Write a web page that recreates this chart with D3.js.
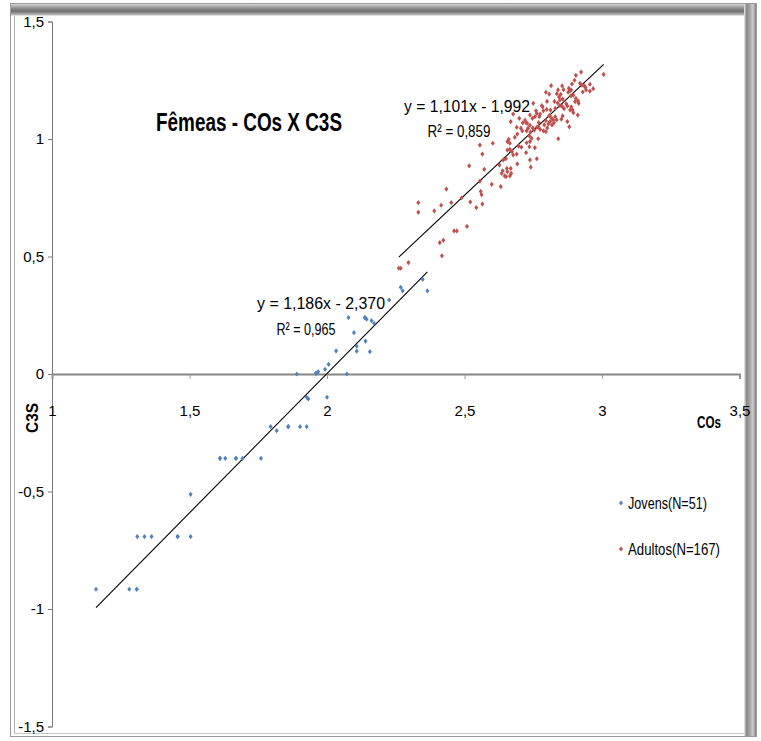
<!DOCTYPE html>
<html>
<head>
<meta charset="utf-8">
<script src="https://cdn.jsdelivr.net/npm/d3@7"></script>
<style>
  html, body { margin: 0; padding: 0; background: #fff; }
  svg { display: block; }
  text { font-family: "Liberation Sans Narrow", "Arial Narrow", "Liberation Sans", Arial, sans-serif; fill: #000; }
</style>
</head>
<body>
<script>
// ---- data -------------------------------------------------------------
const seriesNames = ["Jovens(N=51)", "Adultos(N=167)"];
const seriesColors = ["#4f81bd", "#c0504d"];

const xTicks = [1, 1.5, 2, 2.5, 3, 3.5];
const yTicks = [-1.5, -1, -0.5, 0, 0.5, 1, 1.5];

const jovensCOs = [1.16, 1.281, 1.308, 1.308, 1.31, 1.336, 1.362, 1.457, 1.457, 1.504,
  1.504, 1.611, 1.611, 1.630, 1.669, 1.669, 1.693, 1.76, 1.795, 1.817,
  1.859, 1.859, 1.902, 1.926, 1.926, 1.932, 2.0, 1.89, 1.96, 1.96,
  1.968, 1.993, 2.006, 2.072, 2.033, 2.108, 2.108, 2.156, 2.14, 2.098,
  2.078, 2.138, 2.138, 2.144, 2.162, 2.171, 2.226, 2.268, 2.275, 2.348, 2.365];
const jovensC3S = [-0.916, -0.916, -0.916, -0.916, -0.692, -0.692, -0.692, -0.692, -0.692, -0.692,
  -0.512, -0.359, -0.359, -0.359, -0.359, -0.359, -0.359, -0.359, -0.224, -0.241,
  -0.224, -0.224, -0.224, -0.224, -0.099, -0.106, -0.099, 0, 0.003, 0.003,
  0.01, 0.02, 0.041, 0, 0.098, 0.118, 0.097, 0.095, 0.14, 0.176,
  0.24, 0.24, 0.24, 0.233, 0.227, 0.216, 0.315, 0.369, 0.354, 0.403, 0.354];

const adultosCOs = [2.924, 2.905, 3.006, 2.815, 2.855, 2.840, 2.836, 2.844, 2.847, 2.857,
  2.879, 2.884, 2.888, 2.877, 2.887, 2.891, 2.920, 2.927, 2.936, 2.956,
  2.942, 2.956, 2.968, 2.796, 2.808, 2.896, 2.905, 2.913, 2.915, 2.902,
  2.750, 2.827, 2.839, 2.781, 2.784, 2.799, 2.813, 2.787, 2.847, 2.855,
  2.862, 2.874, 2.884, 2.893, 2.896, 2.888, 2.912, 2.677, 2.668, 2.699,
  2.738, 2.747, 2.756, 2.763, 2.775, 2.772, 2.808, 2.817, 2.823, 2.811,
  2.825, 2.818, 2.805, 2.796, 2.830, 2.835, 2.857, 2.852, 2.874, 2.881,
  2.712, 2.724, 2.728, 2.705, 2.710, 2.726, 2.731, 2.738, 2.748, 2.754,
  2.763, 2.775, 2.768, 2.787, 2.796, 2.801, 2.692, 2.683, 2.661, 2.656,
  2.665, 2.736, 2.744, 2.768, 2.841, 2.603, 2.726, 2.738, 2.736, 2.697,
  2.707, 2.756, 2.656, 2.665, 2.673, 2.724, 2.690, 2.677, 2.641, 2.651,
  2.763, 2.738, 2.627, 2.692, 2.741, 2.654, 2.668, 2.656, 2.639, 2.635,
  2.646, 2.651, 2.665, 2.670, 2.599, 2.632, 2.565, 2.517, 2.572, 2.556,
  2.434, 2.559, 2.562, 2.490, 2.332, 2.332, 2.452, 2.521, 2.565, 2.415,
  2.543, 2.390, 2.462, 2.472, 2.509, 2.423, 2.410, 2.418, 2.296, 2.261,
  2.268, 2.556,
  2.850, 2.870, 2.810, 2.770, 2.930, 2.900, 2.830, 2.760, 2.720, 2.690,
  2.800, 2.860, 2.940, 2.790, 2.740];
const adultosC3S = [1.285, 1.271, 1.275, 1.227, 1.226, 1.209, 1.193, 1.179, 1.166, 1.170,
  1.216, 1.206, 1.209, 1.199, 1.183, 1.234, 1.237, 1.229, 1.226, 1.233,
  1.209, 1.204, 1.214, 1.199, 1.191, 1.187, 1.173, 1.162, 1.152, 1.159,
  1.152, 1.160, 1.153, 1.142, 1.137, 1.126, 1.123, 1.120, 1.142, 1.139,
  1.129, 1.140, 1.123, 1.123, 1.112, 1.137, 1.102, 1.106, 1.074, 1.088,
  1.102, 1.088, 1.095, 1.109, 1.106, 1.095, 1.098, 1.088, 1.081, 1.074,
  1.069, 1.060, 1.064, 1.078, 1.095, 1.081, 1.098, 1.084, 1.074, 1.052,
  1.069, 1.069, 1.067, 1.046, 1.034, 1.035, 1.046, 1.058, 1.047, 1.038,
  1.050, 1.041, 1.052, 1.035, 1.031, 1.047, 1.021, 1.007, 0.999, 0.989,
  0.982, 1.013, 1.003, 1.001, 1.001, 0.982, 0.984, 0.989, 0.967, 0.970,
  0.965, 0.963, 0.953, 0.956, 0.946, 0.942, 0.936, 0.932, 0.911, 0.916,
  0.916, 0.911, 0.889, 0.894, 0.880, 0.875, 0.875, 0.861, 0.865, 0.854,
  0.843, 0.840, 0.843, 0.854, 0.807, 0.797, 0.936, 0.886, 0.871, 0.821,
  0.787, 0.777, 0.763, 0.750, 0.729, 0.688, 0.729, 0.732, 0.723, 0.718,
  0.708, 0.694, 0.609, 0.609, 0.628, 0.569, 0.559, 0.503, 0.474, 0.450,
  0.450, 0.974,
  1.190, 1.150, 1.100, 1.070, 1.200, 1.250, 1.130, 1.120, 1.080, 1.050,
  1.160, 1.210, 1.220, 1.060, 1.030];

// linear trend lines: [slope, intercept] and R²
const trendCoefs = [[1.186, -2.370], [1.101, -1.992]];
const trendR2 = [0.965, 0.859];

// ---- chart ------------------------------------------------------------
const W = 761, H = 741;
const svg = d3.select("body").append("svg").attr("width", W).attr("height", H);
const defs = svg.append("defs");

const comma = v => String(v).replace(".", ",");
const fix3 = v => Math.abs(v).toFixed(3).replace(".", ",");
const narrowFont = '"Liberation Sans Narrow","Liberation Sans",Arial,sans-serif';

// outer frame with bevelled edges
const gTop = defs.append("linearGradient").attr("id", "gTop").attr("x1", 0).attr("y1", 0).attr("x2", 0).attr("y2", 1);
[[0, "#d6d6d6"], [0.35, "#8e8e8e"], [0.6, "#707070"], [0.85, "#a8a8a8"], [1, "#f4f4f4"]]
  .forEach(([o, c]) => gTop.append("stop").attr("offset", o).attr("stop-color", c));
const gRight = defs.append("linearGradient").attr("id", "gRight").attr("x1", 0).attr("y1", 0).attr("x2", 1).attr("y2", 0);
[[0, "#f0f0f0"], [0.2, "#8a8a8a"], [0.45, "#a0a0a0"], [0.75, "#cfcfcf"], [1, "#7d7d7d"]]
  .forEach(([o, c]) => gRight.append("stop").attr("offset", o).attr("stop-color", c));

const frame = svg.append("g");
frame.append("rect").attr("x", 10.5).attr("y", 3.5).attr("width", 746).attr("height", 733)
  .attr("fill", "#fff").attr("stroke", "#9c9c9c");
frame.append("line").attr("x1", 14.5).attr("x2", 14.5).attr("y1", 14).attr("y2", 734)
  .attr("stroke", "#b4b4b4");
frame.append("line").attr("x1", 14).attr("x2", 745).attr("y1", 733.5).attr("y2", 733.5)
  .attr("stroke", "#c4c4c4");
frame.append("rect").attr("x", 11).attr("y", 4).attr("width", 745).attr("height", 12).attr("fill", "url(#gTop)");
frame.append("rect").attr("x", 744).attr("y", 4).attr("width", 12).attr("height", 732).attr("fill", "url(#gRight)");

// scales
const x = d3.scaleLinear().domain([1, 3.5]).range([52, 739.5]);
const y = d3.scaleLinear().domain([-1.5, 1.5]).range([726.5, 21.5]);

// y axis
const yAxis = svg.append("g").attr("transform", `translate(${x(1)},0)`)
  .call(d3.axisLeft(y).tickValues(yTicks).tickSize(4).tickPadding(4).tickFormat(comma));
yAxis.select(".domain").attr("stroke", "#7a7a7a");
yAxis.selectAll(".tick line").attr("stroke", "#7a7a7a");
yAxis.selectAll("text").attr("font-size", 15).attr("fill", "#000").style("font-family", narrowFont);

// x axis drawn through C3S = 0, labels set well below it
const xAxis = svg.append("g").attr("transform", `translate(0,${y(0)})`)
  .call(d3.axisBottom(x).tickValues(xTicks).tickSize(5).tickPadding(26).tickFormat(comma));
xAxis.select(".domain").attr("stroke", "#868686").attr("stroke-width", 2);
xAxis.selectAll(".tick line").attr("stroke", "#9a9a9a");
xAxis.selectAll("text").attr("font-size", 15).attr("fill", "#000").style("font-family", narrowFont);

// trend lines
const allCOs = [jovensCOs, adultosCOs];
const allC3S = [jovensC3S, adultosC3S];
trendCoefs.forEach(([m, b], i) => {
  const [x0, x1] = d3.extent(allCOs[i]);
  svg.append("line")
    .attr("x1", x(x0)).attr("y1", y(m * x0 + b))
    .attr("x2", x(x1)).attr("y2", y(m * x1 + b))
    .attr("stroke", "#000").attr("stroke-width", 1.1);
});

// diamond markers
const diamond = (cx, cy) => `M${cx},${cy - 2.6}L${cx + 2},${cy}L${cx},${cy + 2.6}L${cx - 2},${cy}Z`;
allCOs.forEach((xs, i) => {
  const pts = xs.map((v, k) => [v, allC3S[i][k]]);
  svg.append("g").selectAll("path").data(pts).join("path")
    .attr("d", d => diamond(x(d[0]), y(d[1])))
    .attr("fill", seriesColors[i]);
});

// equation labels
const eqPos = [[321, 309, 306, 335], [467, 112, 459, 137]];
const eqWidth = [[128, 59], [126, 63]];
trendCoefs.forEach(([m, b], i) => {
  const [ex, ey, rx, ry] = eqPos[i];
  svg.append("text").attr("x", ex).attr("y", ey).attr("text-anchor", "middle")
    .attr("font-size", 16).attr("textLength", eqWidth[i][0]).attr("lengthAdjust", "spacingAndGlyphs")
    .text(`y = ${comma(m)}x - ${fix3(b)}`);
  svg.append("text").attr("x", rx).attr("y", ry).attr("text-anchor", "middle")
    .attr("font-size", 17).attr("textLength", eqWidth[i][1]).attr("lengthAdjust", "spacingAndGlyphs")
    .text(`R² = ${fix3(trendR2[i])}`);
});

// title
svg.append("text").attr("x", 156).attr("y", 131).attr("font-size", 25).attr("font-weight", "bold")
  .attr("textLength", 186).attr("lengthAdjust", "spacingAndGlyphs")
  .text("Fêmeas - COs X C3S");

// axis titles
svg.append("text").attr("x", 697).attr("y", 428).attr("font-size", 16).attr("font-weight", "bold")
  .attr("textLength", 24).attr("lengthAdjust", "spacingAndGlyphs").text("COs");
svg.append("text").attr("transform", "translate(38,433) rotate(-90)")
  .attr("font-size", 16).attr("font-weight", "bold")
  .attr("textLength", 30).attr("lengthAdjust", "spacingAndGlyphs").text("C3S");

// legend
const legendY = [503, 549];
const legendW = [79, 92];
seriesNames.forEach((name, i) => {
  svg.append("path").attr("d", diamond(621, legendY[i])).attr("fill", seriesColors[i]);
  svg.append("text").attr("x", 628).attr("y", legendY[i] + 6).attr("font-size", 16)
    .attr("textLength", legendW[i]).attr("lengthAdjust", "spacingAndGlyphs").text(name);
});
</script>
</body>
</html>
